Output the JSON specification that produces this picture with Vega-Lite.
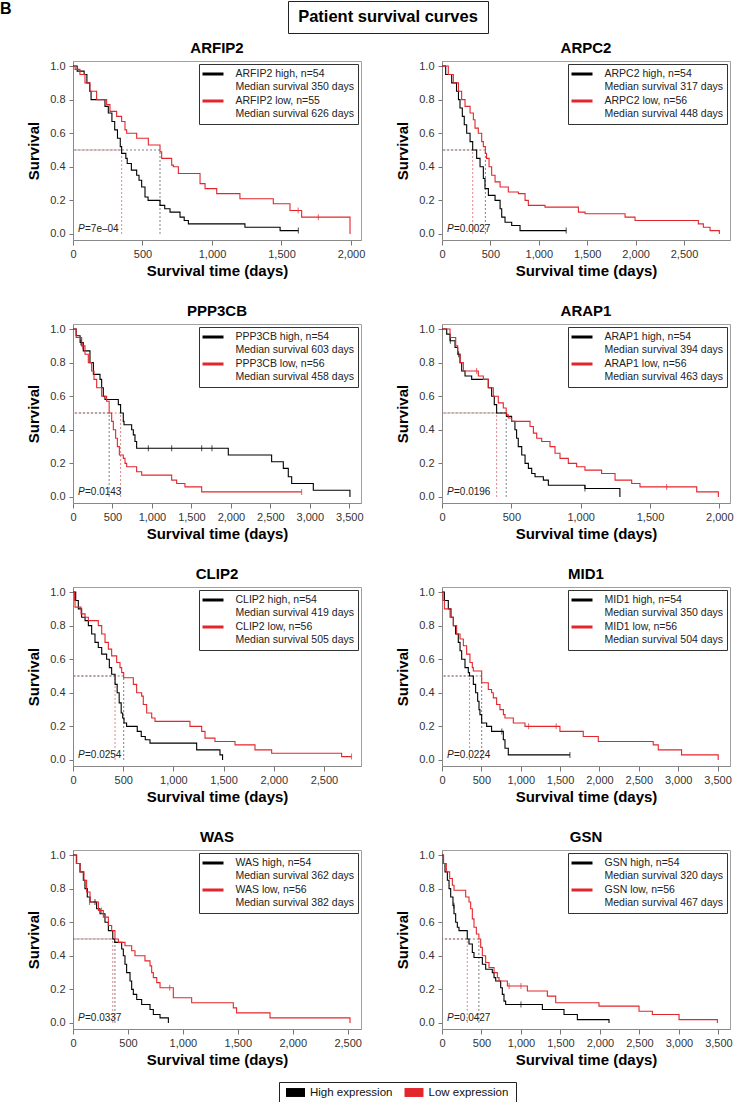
{
"$schema": "https://vega.github.io/schema/vega-lite/v6.json",
"padding": 0,
"background": "white",
"config": {
 "font": "Liberation Sans",
 "view": {"stroke": "#a0a0a0", "strokeWidth": 1},
 "title": {"fontSize": 15, "fontWeight": "bold", "color": "#000000", "offset": 4},
 "axis": {"grid": false, "labelFontSize": 11, "labelColor": "#333333", "titleFontSize": 15, "titleFontWeight": "bold", "titleColor": "#000000", "tickColor": "#777777", "domainColor": "#888888", "labelFlush": false, "labelOverlap": false},
 "axisX": {"tickSize": 5, "labelPadding": 3, "titlePadding": 4},
 "axisY": {"tickSize": 4, "labelPadding": 4, "titlePadding": 8},
 "legend": {"orient": "top-right", "offset": 3, "strokeColor": "#333333", "fillColor": "white", "padding": 3.5, "symbolSize": 100, "symbolOffset": 4, "symbolStrokeWidth": 3, "labelFontSize": 10.5, "labelColor": "#222222", "labelOffset": 16, "rowPadding": 1, "labelLimit": 400}
},
"datasets": {
 "med": [
  {"g":"ARFIP2","k":"high","m":350},{"g":"ARFIP2","k":"low","m":626},
  {"g":"ARPC2","k":"high","m":317},{"g":"ARPC2","k":"low","m":448},
  {"g":"PPP3CB","k":"high","m":603},{"g":"PPP3CB","k":"low","m":458},
  {"g":"ARAP1","k":"high","m":394},{"g":"ARAP1","k":"low","m":463},
  {"g":"CLIP2","k":"high","m":419},{"g":"CLIP2","k":"low","m":505},
  {"g":"MID1","k":"high","m":350},{"g":"MID1","k":"low","m":504},
  {"g":"WAS","k":"high","m":362},{"g":"WAS","k":"low","m":382},
  {"g":"GSN","k":"high","m":320},{"g":"GSN","k":"low","m":467}
 ],
 "pv": [
  {"g":"ARFIP2","p":"=7e–04"},{"g":"ARPC2","p":"=0.0027"},{"g":"PPP3CB","p":"=0.0143"},{"g":"ARAP1","p":"=0.0196"},
  {"g":"CLIP2","p":"=0.0254"},{"g":"MID1","p":"=0.0224"},{"g":"WAS","p":"=0.0337"},{"g":"GSN","p":"=0.0427"}
 ],
 "cen": [
  {"g":"ARFIP2","k":"low","t":1620,"s":0.14},{"g":"ARFIP2","k":"low","t":1765,"s":0.1},{"g":"ARFIP2","k":"high","t":1621,"s":0.02},
  {"g":"ARPC2","k":"high","t":1283,"s":0.02},
  {"g":"PPP3CB","k":"high","t":954,"s":0.29},{"g":"PPP3CB","k":"high","t":1250,"s":0.29},{"g":"PPP3CB","k":"high","t":1630,"s":0.29},{"g":"PPP3CB","k":"high","t":1760,"s":0.29},{"g":"PPP3CB","k":"high","t":100,"s":0.92},{"g":"PPP3CB","k":"low","t":2896,"s":0.03},{"g":"PPP3CB","k":"low","t":120,"s":0.9},
  {"g":"ARAP1","k":"high","t":60,"s":0.93},{"g":"ARAP1","k":"high","t":120,"s":0.85},{"g":"ARAP1","k":"high","t":1031,"s":0.05},{"g":"ARAP1","k":"low","t":1620,"s":0.06},{"g":"ARAP1","k":"low","t":250,"s":0.75},
  {"g":"CLIP2","k":"low","t":2775,"s":0.02},
  {"g":"MID1","k":"high","t":1625,"s":0.03},{"g":"MID1","k":"high","t":760,"s":0.17},{"g":"MID1","k":"low","t":1100,"s":0.2},{"g":"MID1","k":"low","t":1450,"s":0.2},
  {"g":"WAS","k":"high","t":200,"s":0.72},{"g":"WAS","k":"low","t":880,"s":0.21},{"g":"WAS","k":"low","t":150,"s":0.72},{"g":"WAS","k":"low","t":260,"s":0.67},
  {"g":"GSN","k":"high","t":150,"s":0.7},{"g":"GSN","k":"high","t":1000,"s":0.11},{"g":"GSN","k":"low","t":850,"s":0.22},{"g":"GSN","k":"low","t":1000,"s":0.22}
 ],
 "km": [
  {"g":"ARFIP2","k":"high","t":0,"s":1},{"g":"ARFIP2","k":"high","t":30,"s":0.97},{"g":"ARFIP2","k":"high","t":80,"s":0.95},{"g":"ARFIP2","k":"high","t":100,"s":0.9},{"g":"ARFIP2","k":"high","t":120,"s":0.85},{"g":"ARFIP2","k":"high","t":130,"s":0.8},{"g":"ARFIP2","k":"high","t":230,"s":0.76},{"g":"ARFIP2","k":"high","t":254,"s":0.72},{"g":"ARFIP2","k":"high","t":280,"s":0.67},{"g":"ARFIP2","k":"high","t":300,"s":0.62},{"g":"ARFIP2","k":"high","t":320,"s":0.57},{"g":"ARFIP2","k":"high","t":340,"s":0.52},{"g":"ARFIP2","k":"high","t":350,"s":0.48},{"g":"ARFIP2","k":"high","t":380,"s":0.45},{"g":"ARFIP2","k":"high","t":390,"s":0.42},{"g":"ARFIP2","k":"high","t":420,"s":0.38},{"g":"ARFIP2","k":"high","t":458,"s":0.35},{"g":"ARFIP2","k":"high","t":475,"s":0.32},{"g":"ARFIP2","k":"high","t":494,"s":0.28},{"g":"ARFIP2","k":"high","t":518,"s":0.22},{"g":"ARFIP2","k":"high","t":540,"s":0.2},{"g":"ARFIP2","k":"high","t":626,"s":0.17},{"g":"ARFIP2","k":"high","t":660,"s":0.15},{"g":"ARFIP2","k":"high","t":698,"s":0.13},{"g":"ARFIP2","k":"high","t":770,"s":0.1},{"g":"ARFIP2","k":"high","t":800,"s":0.08},{"g":"ARFIP2","k":"high","t":830,"s":0.06},{"g":"ARFIP2","k":"high","t":1237,"s":0.04},{"g":"ARFIP2","k":"high","t":1490,"s":0.02},{"g":"ARFIP2","k":"high","t":1621,"s":0.02},
  {"g":"ARFIP2","k":"low","t":0,"s":1},{"g":"ARFIP2","k":"low","t":15,"s":0.98},{"g":"ARFIP2","k":"low","t":50,"s":0.95},{"g":"ARFIP2","k":"low","t":86,"s":0.9},{"g":"ARFIP2","k":"low","t":122,"s":0.85},{"g":"ARFIP2","k":"low","t":170,"s":0.8},{"g":"ARFIP2","k":"low","t":242,"s":0.77},{"g":"ARFIP2","k":"low","t":266,"s":0.73},{"g":"ARFIP2","k":"low","t":314,"s":0.7},{"g":"ARFIP2","k":"low","t":350,"s":0.67},{"g":"ARFIP2","k":"low","t":374,"s":0.62},{"g":"ARFIP2","k":"low","t":386,"s":0.6},{"g":"ARFIP2","k":"low","t":458,"s":0.57},{"g":"ARFIP2","k":"low","t":542,"s":0.53},{"g":"ARFIP2","k":"low","t":626,"s":0.49},{"g":"ARFIP2","k":"low","t":638,"s":0.45},{"g":"ARFIP2","k":"low","t":710,"s":0.41},{"g":"ARFIP2","k":"low","t":722,"s":0.4},{"g":"ARFIP2","k":"low","t":758,"s":0.36},{"g":"ARFIP2","k":"low","t":914,"s":0.3},{"g":"ARFIP2","k":"low","t":950,"s":0.27},{"g":"ARFIP2","k":"low","t":1034,"s":0.24},{"g":"ARFIP2","k":"low","t":1201,"s":0.21},{"g":"ARFIP2","k":"low","t":1441,"s":0.18},{"g":"ARFIP2","k":"low","t":1561,"s":0.14},{"g":"ARFIP2","k":"low","t":1645,"s":0.1},{"g":"ARFIP2","k":"low","t":1993,"s":0},
  {"g":"ARPC2","k":"high","t":0,"s":1},{"g":"ARPC2","k":"high","t":38,"s":0.95},{"g":"ARPC2","k":"high","t":100,"s":0.9},{"g":"ARPC2","k":"high","t":150,"s":0.85},{"g":"ARPC2","k":"high","t":170,"s":0.8},{"g":"ARPC2","k":"high","t":186,"s":0.75},{"g":"ARPC2","k":"high","t":210,"s":0.7},{"g":"ARPC2","k":"high","t":230,"s":0.65},{"g":"ARPC2","k":"high","t":255,"s":0.6},{"g":"ARPC2","k":"high","t":290,"s":0.55},{"g":"ARPC2","k":"high","t":317,"s":0.5},{"g":"ARPC2","k":"high","t":358,"s":0.45},{"g":"ARPC2","k":"high","t":393,"s":0.4},{"g":"ARPC2","k":"high","t":427,"s":0.33},{"g":"ARPC2","k":"high","t":444,"s":0.27},{"g":"ARPC2","k":"high","t":479,"s":0.23},{"g":"ARPC2","k":"high","t":548,"s":0.2},{"g":"ARPC2","k":"high","t":600,"s":0.15},{"g":"ARPC2","k":"high","t":617,"s":0.1},{"g":"ARPC2","k":"high","t":651,"s":0.07},{"g":"ARPC2","k":"high","t":720,"s":0.05},{"g":"ARPC2","k":"high","t":806,"s":0.02},{"g":"ARPC2","k":"high","t":1283,"s":0.02},
  {"g":"ARPC2","k":"low","t":0,"s":1},{"g":"ARPC2","k":"low","t":65,"s":0.95},{"g":"ARPC2","k":"low","t":117,"s":0.9},{"g":"ARPC2","k":"low","t":170,"s":0.85},{"g":"ARPC2","k":"low","t":203,"s":0.8},{"g":"ARPC2","k":"low","t":238,"s":0.76},{"g":"ARPC2","k":"low","t":290,"s":0.72},{"g":"ARPC2","k":"low","t":324,"s":0.68},{"g":"ARPC2","k":"low","t":341,"s":0.63},{"g":"ARPC2","k":"low","t":375,"s":0.6},{"g":"ARPC2","k":"low","t":410,"s":0.55},{"g":"ARPC2","k":"low","t":427,"s":0.52},{"g":"ARPC2","k":"low","t":448,"s":0.48},{"g":"ARPC2","k":"low","t":460,"s":0.45},{"g":"ARPC2","k":"low","t":486,"s":0.4},{"g":"ARPC2","k":"low","t":513,"s":0.35},{"g":"ARPC2","k":"low","t":548,"s":0.31},{"g":"ARPC2","k":"low","t":600,"s":0.28},{"g":"ARPC2","k":"low","t":685,"s":0.25},{"g":"ARPC2","k":"low","t":789,"s":0.24},{"g":"ARPC2","k":"low","t":858,"s":0.2},{"g":"ARPC2","k":"low","t":892,"s":0.17},{"g":"ARPC2","k":"low","t":1064,"s":0.16},{"g":"ARPC2","k":"low","t":1409,"s":0.13},{"g":"ARPC2","k":"low","t":1478,"s":0.12},{"g":"ARPC2","k":"low","t":1891,"s":0.1},{"g":"ARPC2","k":"low","t":1994,"s":0.08},{"g":"ARPC2","k":"low","t":2648,"s":0.06},{"g":"ARPC2","k":"low","t":2700,"s":0.04},{"g":"ARPC2","k":"low","t":2769,"s":0.02},{"g":"ARPC2","k":"low","t":2865,"s":0},
  {"g":"PPP3CB","k":"high","t":0,"s":1},{"g":"PPP3CB","k":"high","t":40,"s":0.96},{"g":"PPP3CB","k":"high","t":90,"s":0.92},{"g":"PPP3CB","k":"high","t":130,"s":0.87},{"g":"PPP3CB","k":"high","t":215,"s":0.8},{"g":"PPP3CB","k":"high","t":258,"s":0.73},{"g":"PPP3CB","k":"high","t":342,"s":0.7},{"g":"PPP3CB","k":"high","t":363,"s":0.65},{"g":"PPP3CB","k":"high","t":384,"s":0.6},{"g":"PPP3CB","k":"high","t":405,"s":0.58},{"g":"PPP3CB","k":"high","t":574,"s":0.55},{"g":"PPP3CB","k":"high","t":603,"s":0.5},{"g":"PPP3CB","k":"high","t":637,"s":0.45},{"g":"PPP3CB","k":"high","t":646,"s":0.43},{"g":"PPP3CB","k":"high","t":743,"s":0.4},{"g":"PPP3CB","k":"high","t":764,"s":0.37},{"g":"PPP3CB","k":"high","t":785,"s":0.33},{"g":"PPP3CB","k":"high","t":806,"s":0.29},{"g":"PPP3CB","k":"high","t":1967,"s":0.25},{"g":"PPP3CB","k":"high","t":2516,"s":0.21},{"g":"PPP3CB","k":"high","t":2664,"s":0.17},{"g":"PPP3CB","k":"high","t":2727,"s":0.12},{"g":"PPP3CB","k":"high","t":2770,"s":0.08},{"g":"PPP3CB","k":"high","t":3044,"s":0.04},{"g":"PPP3CB","k":"high","t":3508,"s":0},
  {"g":"PPP3CB","k":"low","t":0,"s":1},{"g":"PPP3CB","k":"low","t":40,"s":0.95},{"g":"PPP3CB","k":"low","t":110,"s":0.9},{"g":"PPP3CB","k":"low","t":152,"s":0.85},{"g":"PPP3CB","k":"low","t":194,"s":0.8},{"g":"PPP3CB","k":"low","t":236,"s":0.75},{"g":"PPP3CB","k":"low","t":266,"s":0.7},{"g":"PPP3CB","k":"low","t":300,"s":0.65},{"g":"PPP3CB","k":"low","t":363,"s":0.6},{"g":"PPP3CB","k":"low","t":426,"s":0.57},{"g":"PPP3CB","k":"low","t":458,"s":0.5},{"g":"PPP3CB","k":"low","t":490,"s":0.45},{"g":"PPP3CB","k":"low","t":511,"s":0.4},{"g":"PPP3CB","k":"low","t":540,"s":0.35},{"g":"PPP3CB","k":"low","t":562,"s":0.3},{"g":"PPP3CB","k":"low","t":587,"s":0.25},{"g":"PPP3CB","k":"low","t":637,"s":0.23},{"g":"PPP3CB","k":"low","t":659,"s":0.2},{"g":"PPP3CB","k":"low","t":680,"s":0.18},{"g":"PPP3CB","k":"low","t":806,"s":0.15},{"g":"PPP3CB","k":"low","t":870,"s":0.13},{"g":"PPP3CB","k":"low","t":1250,"s":0.1},{"g":"PPP3CB","k":"low","t":1313,"s":0.08},{"g":"PPP3CB","k":"low","t":1418,"s":0.06},{"g":"PPP3CB","k":"low","t":1630,"s":0.03},{"g":"PPP3CB","k":"low","t":2896,"s":0.03},
  {"g":"ARAP1","k":"high","t":0,"s":1},{"g":"ARAP1","k":"high","t":34,"s":0.97},{"g":"ARAP1","k":"high","t":58,"s":0.93},{"g":"ARAP1","k":"high","t":94,"s":0.89},{"g":"ARAP1","k":"high","t":113,"s":0.85},{"g":"ARAP1","k":"high","t":130,"s":0.8},{"g":"ARAP1","k":"high","t":142,"s":0.75},{"g":"ARAP1","k":"high","t":166,"s":0.72},{"g":"ARAP1","k":"high","t":214,"s":0.7},{"g":"ARAP1","k":"high","t":334,"s":0.65},{"g":"ARAP1","k":"high","t":358,"s":0.6},{"g":"ARAP1","k":"high","t":377,"s":0.55},{"g":"ARAP1","k":"high","t":394,"s":0.5},{"g":"ARAP1","k":"high","t":466,"s":0.48},{"g":"ARAP1","k":"high","t":502,"s":0.45},{"g":"ARAP1","k":"high","t":526,"s":0.4},{"g":"ARAP1","k":"high","t":538,"s":0.35},{"g":"ARAP1","k":"high","t":550,"s":0.3},{"g":"ARAP1","k":"high","t":575,"s":0.25},{"g":"ARAP1","k":"high","t":599,"s":0.2},{"g":"ARAP1","k":"high","t":623,"s":0.17},{"g":"ARAP1","k":"high","t":647,"s":0.14},{"g":"ARAP1","k":"high","t":671,"s":0.12},{"g":"ARAP1","k":"high","t":731,"s":0.1},{"g":"ARAP1","k":"high","t":767,"s":0.07},{"g":"ARAP1","k":"high","t":1031,"s":0.05},{"g":"ARAP1","k":"high","t":1283,"s":0},
  {"g":"ARAP1","k":"low","t":0,"s":1},{"g":"ARAP1","k":"low","t":58,"s":0.95},{"g":"ARAP1","k":"low","t":99,"s":0.9},{"g":"ARAP1","k":"low","t":113,"s":0.85},{"g":"ARAP1","k":"low","t":130,"s":0.8},{"g":"ARAP1","k":"low","t":154,"s":0.75},{"g":"ARAP1","k":"low","t":262,"s":0.72},{"g":"ARAP1","k":"low","t":298,"s":0.7},{"g":"ARAP1","k":"low","t":334,"s":0.65},{"g":"ARAP1","k":"low","t":370,"s":0.6},{"g":"ARAP1","k":"low","t":406,"s":0.56},{"g":"ARAP1","k":"low","t":442,"s":0.53},{"g":"ARAP1","k":"low","t":463,"s":0.49},{"g":"ARAP1","k":"low","t":478,"s":0.47},{"g":"ARAP1","k":"low","t":502,"s":0.45},{"g":"ARAP1","k":"low","t":635,"s":0.42},{"g":"ARAP1","k":"low","t":659,"s":0.38},{"g":"ARAP1","k":"low","t":683,"s":0.35},{"g":"ARAP1","k":"low","t":719,"s":0.33},{"g":"ARAP1","k":"low","t":779,"s":0.3},{"g":"ARAP1","k":"low","t":815,"s":0.26},{"g":"ARAP1","k":"low","t":851,"s":0.23},{"g":"ARAP1","k":"low","t":911,"s":0.2},{"g":"ARAP1","k":"low","t":971,"s":0.18},{"g":"ARAP1","k":"low","t":1031,"s":0.16},{"g":"ARAP1","k":"low","t":1151,"s":0.14},{"g":"ARAP1","k":"low","t":1248,"s":0.1},{"g":"ARAP1","k":"low","t":1368,"s":0.08},{"g":"ARAP1","k":"low","t":1428,"s":0.06},{"g":"ARAP1","k":"low","t":1837,"s":0.03},{"g":"ARAP1","k":"low","t":1993,"s":0},
  {"g":"CLIP2","k":"high","t":0,"s":1},{"g":"CLIP2","k":"high","t":27,"s":0.95},{"g":"CLIP2","k":"high","t":53,"s":0.9},{"g":"CLIP2","k":"high","t":86,"s":0.85},{"g":"CLIP2","k":"high","t":120,"s":0.83},{"g":"CLIP2","k":"high","t":153,"s":0.8},{"g":"CLIP2","k":"high","t":186,"s":0.75},{"g":"CLIP2","k":"high","t":219,"s":0.7},{"g":"CLIP2","k":"high","t":252,"s":0.67},{"g":"CLIP2","k":"high","t":286,"s":0.63},{"g":"CLIP2","k":"high","t":335,"s":0.6},{"g":"CLIP2","k":"high","t":362,"s":0.55},{"g":"CLIP2","k":"high","t":385,"s":0.51},{"g":"CLIP2","k":"high","t":419,"s":0.45},{"g":"CLIP2","k":"high","t":440,"s":0.4},{"g":"CLIP2","k":"high","t":460,"s":0.34},{"g":"CLIP2","k":"high","t":480,"s":0.28},{"g":"CLIP2","k":"high","t":495,"s":0.25},{"g":"CLIP2","k":"high","t":508,"s":0.22},{"g":"CLIP2","k":"high","t":534,"s":0.2},{"g":"CLIP2","k":"high","t":640,"s":0.17},{"g":"CLIP2","k":"high","t":680,"s":0.14},{"g":"CLIP2","k":"high","t":720,"s":0.12},{"g":"CLIP2","k":"high","t":767,"s":0.1},{"g":"CLIP2","k":"high","t":1232,"s":0.06},{"g":"CLIP2","k":"high","t":1464,"s":0.03},{"g":"CLIP2","k":"high","t":1490,"s":0},
  {"g":"CLIP2","k":"low","t":0,"s":1},{"g":"CLIP2","k":"low","t":15,"s":0.95},{"g":"CLIP2","k":"low","t":20,"s":0.91},{"g":"CLIP2","k":"low","t":80,"s":0.87},{"g":"CLIP2","k":"low","t":120,"s":0.85},{"g":"CLIP2","k":"low","t":153,"s":0.83},{"g":"CLIP2","k":"low","t":252,"s":0.8},{"g":"CLIP2","k":"low","t":286,"s":0.75},{"g":"CLIP2","k":"low","t":319,"s":0.7},{"g":"CLIP2","k":"low","t":352,"s":0.66},{"g":"CLIP2","k":"low","t":385,"s":0.62},{"g":"CLIP2","k":"low","t":435,"s":0.58},{"g":"CLIP2","k":"low","t":468,"s":0.55},{"g":"CLIP2","k":"low","t":485,"s":0.52},{"g":"CLIP2","k":"low","t":505,"s":0.49},{"g":"CLIP2","k":"low","t":601,"s":0.45},{"g":"CLIP2","k":"low","t":634,"s":0.4},{"g":"CLIP2","k":"low","t":684,"s":0.38},{"g":"CLIP2","k":"low","t":700,"s":0.33},{"g":"CLIP2","k":"low","t":734,"s":0.28},{"g":"CLIP2","k":"low","t":784,"s":0.25},{"g":"CLIP2","k":"low","t":817,"s":0.23},{"g":"CLIP2","k":"low","t":1165,"s":0.2},{"g":"CLIP2","k":"low","t":1282,"s":0.17},{"g":"CLIP2","k":"low","t":1315,"s":0.13},{"g":"CLIP2","k":"low","t":1414,"s":0.11},{"g":"CLIP2","k":"low","t":1614,"s":0.09},{"g":"CLIP2","k":"low","t":1813,"s":0.06},{"g":"CLIP2","k":"low","t":1979,"s":0.04},{"g":"CLIP2","k":"low","t":2676,"s":0.02},{"g":"CLIP2","k":"low","t":2775,"s":0.02},
  {"g":"MID1","k":"high","t":0,"s":1},{"g":"MID1","k":"high","t":30,"s":0.95},{"g":"MID1","k":"high","t":80,"s":0.9},{"g":"MID1","k":"high","t":114,"s":0.85},{"g":"MID1","k":"high","t":144,"s":0.8},{"g":"MID1","k":"high","t":173,"s":0.75},{"g":"MID1","k":"high","t":207,"s":0.7},{"g":"MID1","k":"high","t":229,"s":0.65},{"g":"MID1","k":"high","t":250,"s":0.6},{"g":"MID1","k":"high","t":292,"s":0.55},{"g":"MID1","k":"high","t":334,"s":0.52},{"g":"MID1","k":"high","t":350,"s":0.5},{"g":"MID1","k":"high","t":398,"s":0.45},{"g":"MID1","k":"high","t":427,"s":0.4},{"g":"MID1","k":"high","t":453,"s":0.35},{"g":"MID1","k":"high","t":470,"s":0.3},{"g":"MID1","k":"high","t":482,"s":0.27},{"g":"MID1","k":"high","t":504,"s":0.22},{"g":"MID1","k":"high","t":567,"s":0.2},{"g":"MID1","k":"high","t":630,"s":0.17},{"g":"MID1","k":"high","t":779,"s":0.12},{"g":"MID1","k":"high","t":800,"s":0.07},{"g":"MID1","k":"high","t":842,"s":0.03},{"g":"MID1","k":"high","t":1625,"s":0.03},
  {"g":"MID1","k":"low","t":0,"s":1},{"g":"MID1","k":"low","t":13,"s":0.95},{"g":"MID1","k":"low","t":30,"s":0.9},{"g":"MID1","k":"low","t":102,"s":0.85},{"g":"MID1","k":"low","t":144,"s":0.8},{"g":"MID1","k":"low","t":186,"s":0.75},{"g":"MID1","k":"low","t":229,"s":0.72},{"g":"MID1","k":"low","t":271,"s":0.68},{"g":"MID1","k":"low","t":313,"s":0.63},{"g":"MID1","k":"low","t":355,"s":0.58},{"g":"MID1","k":"low","t":385,"s":0.55},{"g":"MID1","k":"low","t":398,"s":0.53},{"g":"MID1","k":"low","t":504,"s":0.46},{"g":"MID1","k":"low","t":588,"s":0.42},{"g":"MID1","k":"low","t":630,"s":0.4},{"g":"MID1","k":"low","t":652,"s":0.37},{"g":"MID1","k":"low","t":694,"s":0.33},{"g":"MID1","k":"low","t":736,"s":0.3},{"g":"MID1","k":"low","t":780,"s":0.27},{"g":"MID1","k":"low","t":800,"s":0.25},{"g":"MID1","k":"low","t":906,"s":0.22},{"g":"MID1","k":"low","t":1054,"s":0.2},{"g":"MID1","k":"low","t":1498,"s":0.17},{"g":"MID1","k":"low","t":1794,"s":0.14},{"g":"MID1","k":"low","t":1985,"s":0.11},{"g":"MID1","k":"low","t":2683,"s":0.09},{"g":"MID1","k":"low","t":2747,"s":0.06},{"g":"MID1","k":"low","t":3043,"s":0.03},{"g":"MID1","k":"low","t":3508,"s":0},
  {"g":"WAS","k":"high","t":0,"s":1},{"g":"WAS","k":"high","t":33,"s":0.95},{"g":"WAS","k":"high","t":64,"s":0.9},{"g":"WAS","k":"high","t":94,"s":0.85},{"g":"WAS","k":"high","t":109,"s":0.8},{"g":"WAS","k":"high","t":130,"s":0.75},{"g":"WAS","k":"high","t":155,"s":0.72},{"g":"WAS","k":"high","t":215,"s":0.68},{"g":"WAS","k":"high","t":246,"s":0.65},{"g":"WAS","k":"high","t":291,"s":0.6},{"g":"WAS","k":"high","t":322,"s":0.55},{"g":"WAS","k":"high","t":362,"s":0.5},{"g":"WAS","k":"high","t":380,"s":0.48},{"g":"WAS","k":"high","t":443,"s":0.44},{"g":"WAS","k":"high","t":458,"s":0.4},{"g":"WAS","k":"high","t":473,"s":0.35},{"g":"WAS","k":"high","t":488,"s":0.3},{"g":"WAS","k":"high","t":519,"s":0.25},{"g":"WAS","k":"high","t":534,"s":0.2},{"g":"WAS","k":"high","t":549,"s":0.17},{"g":"WAS","k":"high","t":580,"s":0.14},{"g":"WAS","k":"high","t":625,"s":0.11},{"g":"WAS","k":"high","t":701,"s":0.08},{"g":"WAS","k":"high","t":731,"s":0.05},{"g":"WAS","k":"high","t":792,"s":0.03},{"g":"WAS","k":"high","t":868,"s":0},
  {"g":"WAS","k":"low","t":0,"s":1},{"g":"WAS","k":"low","t":30,"s":0.95},{"g":"WAS","k":"low","t":64,"s":0.9},{"g":"WAS","k":"low","t":100,"s":0.85},{"g":"WAS","k":"low","t":124,"s":0.78},{"g":"WAS","k":"low","t":155,"s":0.72},{"g":"WAS","k":"low","t":231,"s":0.67},{"g":"WAS","k":"low","t":276,"s":0.63},{"g":"WAS","k":"low","t":322,"s":0.58},{"g":"WAS","k":"low","t":352,"s":0.55},{"g":"WAS","k":"low","t":382,"s":0.5},{"g":"WAS","k":"low","t":413,"s":0.48},{"g":"WAS","k":"low","t":473,"s":0.46},{"g":"WAS","k":"low","t":534,"s":0.43},{"g":"WAS","k":"low","t":564,"s":0.4},{"g":"WAS","k":"low","t":655,"s":0.37},{"g":"WAS","k":"low","t":701,"s":0.34},{"g":"WAS","k":"low","t":716,"s":0.3},{"g":"WAS","k":"low","t":731,"s":0.27},{"g":"WAS","k":"low","t":762,"s":0.24},{"g":"WAS","k":"low","t":792,"s":0.21},{"g":"WAS","k":"low","t":913,"s":0.15},{"g":"WAS","k":"low","t":1080,"s":0.12},{"g":"WAS","k":"low","t":1459,"s":0.09},{"g":"WAS","k":"low","t":1489,"s":0.06},{"g":"WAS","k":"low","t":1793,"s":0.03},{"g":"WAS","k":"low","t":2521,"s":0},
  {"g":"GSN","k":"high","t":0,"s":1},{"g":"GSN","k":"high","t":17,"s":0.95},{"g":"GSN","k":"high","t":38,"s":0.9},{"g":"GSN","k":"high","t":68,"s":0.85},{"g":"GSN","k":"high","t":89,"s":0.8},{"g":"GSN","k":"high","t":110,"s":0.75},{"g":"GSN","k":"high","t":139,"s":0.7},{"g":"GSN","k":"high","t":152,"s":0.65},{"g":"GSN","k":"high","t":173,"s":0.6},{"g":"GSN","k":"high","t":194,"s":0.57},{"g":"GSN","k":"high","t":215,"s":0.55},{"g":"GSN","k":"high","t":320,"s":0.5},{"g":"GSN","k":"high","t":342,"s":0.47},{"g":"GSN","k":"high","t":384,"s":0.42},{"g":"GSN","k":"high","t":405,"s":0.39},{"g":"GSN","k":"high","t":511,"s":0.35},{"g":"GSN","k":"high","t":553,"s":0.32},{"g":"GSN","k":"high","t":637,"s":0.3},{"g":"GSN","k":"high","t":659,"s":0.27},{"g":"GSN","k":"high","t":680,"s":0.25},{"g":"GSN","k":"high","t":743,"s":0.21},{"g":"GSN","k":"high","t":764,"s":0.17},{"g":"GSN","k":"high","t":785,"s":0.13},{"g":"GSN","k":"high","t":806,"s":0.11},{"g":"GSN","k":"high","t":1271,"s":0.08},{"g":"GSN","k":"high","t":1545,"s":0.05},{"g":"GSN","k":"high","t":1714,"s":0.02},{"g":"GSN","k":"high","t":2115,"s":0},
  {"g":"GSN","k":"low","t":0,"s":1},{"g":"GSN","k":"low","t":20,"s":0.95},{"g":"GSN","k":"low","t":55,"s":0.9},{"g":"GSN","k":"low","t":97,"s":0.86},{"g":"GSN","k":"low","t":131,"s":0.82},{"g":"GSN","k":"low","t":152,"s":0.79},{"g":"GSN","k":"low","t":300,"s":0.75},{"g":"GSN","k":"low","t":342,"s":0.72},{"g":"GSN","k":"low","t":363,"s":0.68},{"g":"GSN","k":"low","t":384,"s":0.62},{"g":"GSN","k":"low","t":405,"s":0.57},{"g":"GSN","k":"low","t":435,"s":0.53},{"g":"GSN","k":"low","t":467,"s":0.5},{"g":"GSN","k":"low","t":490,"s":0.45},{"g":"GSN","k":"low","t":511,"s":0.4},{"g":"GSN","k":"low","t":553,"s":0.36},{"g":"GSN","k":"low","t":595,"s":0.33},{"g":"GSN","k":"low","t":659,"s":0.3},{"g":"GSN","k":"low","t":701,"s":0.27},{"g":"GSN","k":"low","t":722,"s":0.25},{"g":"GSN","k":"low","t":828,"s":0.22},{"g":"GSN","k":"low","t":1081,"s":0.19},{"g":"GSN","k":"low","t":1334,"s":0.16},{"g":"GSN","k":"low","t":1440,"s":0.12},{"g":"GSN","k":"low","t":1988,"s":0.1},{"g":"GSN","k":"low","t":2495,"s":0.07},{"g":"GSN","k":"low","t":2664,"s":0.05},{"g":"GSN","k":"low","t":3002,"s":0.02},{"g":"GSN","k":"low","t":3487,"s":0}
 ]
},
"spacing": 6,
"resolve": {"scale": {"color": "independent", "stroke": "independent", "fill": "independent"}},
"vconcat": [
 {"hconcat": [
   {"width": 1, "height": 32, "view": {"stroke": null}, "data": {"values": [{"lab": "B"}]},
    "mark": {"type": "text", "align": "left", "baseline": "middle", "dx": -73.5, "dy": -8, "fontSize": 16, "fontWeight": "bold", "color": "#000000"},
    "encoding": {"text": {"field": "lab", "type": "nominal"}}},
   {"width": 200, "height": 32, "view": {"stroke": "#222222", "strokeWidth": 1}, "data": {"values": [{"lab": "Patient survival curves"}]},
    "mark": {"type": "text", "align": "center", "baseline": "middle", "fontSize": 16.5, "fontWeight": "bold", "color": "#000000"},
    "encoding": {"text": {"field": "lab", "type": "nominal"}}}
  ], "spacing": 213},
 {"columns": 2, "spacing": {"row": 24, "column": 29},
  "resolve": {"scale": {"color": "independent"}, "legend": {"color": "independent"}},
  "concat": [
   {"width": 288, "height": 179, "title": "ARFIP2", "layer": [
     {"data": {"name": "med"}, "transform": [{"filter": "datum.g == 'ARFIP2'"}], "mark": {"type": "rule", "strokeDash": [2, 2], "strokeWidth": 0.9}, "encoding": {"x": {"field": "m", "type": "quantitative", "title": "Survival time (days)"}, "x2": {"datum": 0}, "y": {"datum": 0.5, "type": "quantitative", "title": "Survival"}, "stroke": {"field": "k", "type": "nominal", "scale": {"domain": ["high", "low"], "range": ["#d9787c", "#6f6f6f"]}, "legend": null}}},
     {"data": {"name": "med"}, "transform": [{"filter": "datum.g == 'ARFIP2'"}], "mark": {"type": "rule", "strokeDash": [2, 2], "strokeWidth": 0.9}, "encoding": {"x": {"field": "m", "type": "quantitative", "title": "Survival time (days)"}, "y": {"datum": 0, "type": "quantitative", "title": "Survival"}, "y2": {"datum": 0.5}, "stroke": {"field": "k", "type": "nominal", "legend": null}}},
     {"data": {"name": "km"}, "transform": [{"filter": "datum.g == 'ARFIP2'"}], "mark": {"type": "line", "interpolate": "step-after", "strokeWidth": 1.1},
      "encoding": {"x": {"field": "t", "type": "quantitative", "title": "Survival time (days)", "scale": {"domain": [0, 2072], "nice": false, "zero": false}, "axis": {"values": [0, 500, 1000, 1500, 2000], "tickCount": 12, "format": ",d", "labelOverlap": false}},
       "y": {"field": "s", "type": "quantitative", "title": "Survival", "scale": {"domain": [-0.036, 1.03], "nice": false, "zero": false}, "axis": {"values": [0, 0.2, 0.4, 0.6, 0.8, 1], "tickCount": 12, "format": ".1f", "labelOverlap": false}},
       "color": {"field": "k", "type": "nominal", "scale": {"domain": ["high", "low"], "range": ["#000000", "#e3262c"]}, "legend": {"title": null, "symbolType": "M-2.1,0L2.1,0", "labelExpr": "datum.label == 'high' ? ['ARFIP2 high, n=54', 'Median survival 350 days'] : ['ARFIP2 low, n=55', 'Median survival 626 days']", "encode": {"labels": {"update": {"lineHeight": {"value": 13.3}}}, "symbols": {"update": {"strokeWidth": {"value": 3}}}}}}}},
     {"data": {"name": "cen"}, "transform": [{"filter": "datum.g == 'ARFIP2'"}], "mark": {"type": "tick", "orient": "vertical", "size": 6, "thickness": 1}, "encoding": {"x": {"field": "t", "type": "quantitative", "title": "Survival time (days)"}, "y": {"field": "s", "type": "quantitative", "title": "Survival"}, "color": {"field": "k", "type": "nominal"}}},
     {"data": {"name": "pv"}, "transform": [{"filter": "datum.g == 'ARFIP2'"}], "mark": {"type": "text", "text": "P", "fontStyle": "italic", "fontSize": 10, "align": "left", "baseline": "middle", "dx": 5, "color": "#222222"}, "encoding": {"x": {"datum": 0, "type": "quantitative", "title": "Survival time (days)"}, "y": {"datum": 0.03, "type": "quantitative", "title": "Survival"}}},
     {"data": {"name": "pv"}, "transform": [{"filter": "datum.g == 'ARFIP2'"}], "mark": {"type": "text", "fontSize": 10, "align": "left", "baseline": "middle", "dx": 12, "color": "#222222"}, "encoding": {"x": {"datum": 0, "type": "quantitative", "title": "Survival time (days)"}, "y": {"datum": 0.03, "type": "quantitative", "title": "Survival"}, "text": {"field": "p", "type": "nominal"}}}
   ]},
   {"width": 288, "height": 179, "title": "ARPC2", "layer": [
     {"data": {"name": "med"}, "transform": [{"filter": "datum.g == 'ARPC2'"}], "mark": {"type": "rule", "strokeDash": [2, 2], "strokeWidth": 0.9}, "encoding": {"x": {"field": "m", "type": "quantitative", "title": "Survival time (days)"}, "x2": {"datum": 0}, "y": {"datum": 0.5, "type": "quantitative", "title": "Survival"}, "stroke": {"field": "k", "type": "nominal", "scale": {"domain": ["high", "low"], "range": ["#d9787c", "#6f6f6f"]}, "legend": null}}},
     {"data": {"name": "med"}, "transform": [{"filter": "datum.g == 'ARPC2'"}], "mark": {"type": "rule", "strokeDash": [2, 2], "strokeWidth": 0.9}, "encoding": {"x": {"field": "m", "type": "quantitative", "title": "Survival time (days)"}, "y": {"datum": 0, "type": "quantitative", "title": "Survival"}, "y2": {"datum": 0.5}, "stroke": {"field": "k", "type": "nominal", "legend": null}}},
     {"data": {"name": "km"}, "transform": [{"filter": "datum.g == 'ARPC2'"}], "mark": {"type": "line", "interpolate": "step-after", "strokeWidth": 1.1},
      "encoding": {"x": {"field": "t", "type": "quantitative", "title": "Survival time (days)", "scale": {"domain": [0, 2975], "nice": false, "zero": false}, "axis": {"values": [0, 500, 1000, 1500, 2000, 2500], "tickCount": 12, "format": ",d", "labelOverlap": false}},
       "y": {"field": "s", "type": "quantitative", "title": "Survival", "scale": {"domain": [-0.036, 1.03], "nice": false, "zero": false}, "axis": {"values": [0, 0.2, 0.4, 0.6, 0.8, 1], "tickCount": 12, "format": ".1f", "labelOverlap": false}},
       "color": {"field": "k", "type": "nominal", "scale": {"domain": ["high", "low"], "range": ["#000000", "#e3262c"]}, "legend": {"title": null, "symbolType": "M-2.1,0L2.1,0", "labelExpr": "datum.label == 'high' ? ['ARPC2 high, n=54', 'Median survival 317 days'] : ['ARPC2 low, n=56', 'Median survival 448 days']", "encode": {"labels": {"update": {"lineHeight": {"value": 13.3}}}, "symbols": {"update": {"strokeWidth": {"value": 3}}}}}}}},
     {"data": {"name": "cen"}, "transform": [{"filter": "datum.g == 'ARPC2'"}], "mark": {"type": "tick", "orient": "vertical", "size": 6, "thickness": 1}, "encoding": {"x": {"field": "t", "type": "quantitative", "title": "Survival time (days)"}, "y": {"field": "s", "type": "quantitative", "title": "Survival"}, "color": {"field": "k", "type": "nominal"}}},
     {"data": {"name": "pv"}, "transform": [{"filter": "datum.g == 'ARPC2'"}], "mark": {"type": "text", "text": "P", "fontStyle": "italic", "fontSize": 10, "align": "left", "baseline": "middle", "dx": 5, "color": "#222222"}, "encoding": {"x": {"datum": 0, "type": "quantitative", "title": "Survival time (days)"}, "y": {"datum": 0.03, "type": "quantitative", "title": "Survival"}}},
     {"data": {"name": "pv"}, "transform": [{"filter": "datum.g == 'ARPC2'"}], "mark": {"type": "text", "fontSize": 10, "align": "left", "baseline": "middle", "dx": 12, "color": "#222222"}, "encoding": {"x": {"datum": 0, "type": "quantitative", "title": "Survival time (days)"}, "y": {"datum": 0.03, "type": "quantitative", "title": "Survival"}, "text": {"field": "p", "type": "nominal"}}}
   ]},
   {"width": 288, "height": 179, "title": "PPP3CB", "layer": [
     {"data": {"name": "med"}, "transform": [{"filter": "datum.g == 'PPP3CB'"}], "mark": {"type": "rule", "strokeDash": [2, 2], "strokeWidth": 0.9}, "encoding": {"x": {"field": "m", "type": "quantitative", "title": "Survival time (days)"}, "x2": {"datum": 0}, "y": {"datum": 0.5, "type": "quantitative", "title": "Survival"}, "stroke": {"field": "k", "type": "nominal", "scale": {"domain": ["high", "low"], "range": ["#d9787c", "#6f6f6f"]}, "legend": null}}},
     {"data": {"name": "med"}, "transform": [{"filter": "datum.g == 'PPP3CB'"}], "mark": {"type": "rule", "strokeDash": [2, 2], "strokeWidth": 0.9}, "encoding": {"x": {"field": "m", "type": "quantitative", "title": "Survival time (days)"}, "y": {"datum": 0, "type": "quantitative", "title": "Survival"}, "y2": {"datum": 0.5}, "stroke": {"field": "k", "type": "nominal", "legend": null}}},
     {"data": {"name": "km"}, "transform": [{"filter": "datum.g == 'PPP3CB'"}], "mark": {"type": "line", "interpolate": "step-after", "strokeWidth": 1.1},
      "encoding": {"x": {"field": "t", "type": "quantitative", "title": "Survival time (days)", "scale": {"domain": [0, 3648], "nice": false, "zero": false}, "axis": {"values": [0, 500, 1000, 1500, 2000, 2500, 3000, 3500], "tickCount": 12, "format": ",d", "labelOverlap": false}},
       "y": {"field": "s", "type": "quantitative", "title": "Survival", "scale": {"domain": [-0.036, 1.03], "nice": false, "zero": false}, "axis": {"values": [0, 0.2, 0.4, 0.6, 0.8, 1], "tickCount": 12, "format": ".1f", "labelOverlap": false}},
       "color": {"field": "k", "type": "nominal", "scale": {"domain": ["high", "low"], "range": ["#000000", "#e3262c"]}, "legend": {"title": null, "symbolType": "M-2.1,0L2.1,0", "labelExpr": "datum.label == 'high' ? ['PPP3CB high, n=54', 'Median survival 603 days'] : ['PPP3CB low, n=56', 'Median survival 458 days']", "encode": {"labels": {"update": {"lineHeight": {"value": 13.3}}}, "symbols": {"update": {"strokeWidth": {"value": 3}}}}}}}},
     {"data": {"name": "cen"}, "transform": [{"filter": "datum.g == 'PPP3CB'"}], "mark": {"type": "tick", "orient": "vertical", "size": 6, "thickness": 1}, "encoding": {"x": {"field": "t", "type": "quantitative", "title": "Survival time (days)"}, "y": {"field": "s", "type": "quantitative", "title": "Survival"}, "color": {"field": "k", "type": "nominal"}}},
     {"data": {"name": "pv"}, "transform": [{"filter": "datum.g == 'PPP3CB'"}], "mark": {"type": "text", "text": "P", "fontStyle": "italic", "fontSize": 10, "align": "left", "baseline": "middle", "dx": 5, "color": "#222222"}, "encoding": {"x": {"datum": 0, "type": "quantitative", "title": "Survival time (days)"}, "y": {"datum": 0.03, "type": "quantitative", "title": "Survival"}}},
     {"data": {"name": "pv"}, "transform": [{"filter": "datum.g == 'PPP3CB'"}], "mark": {"type": "text", "fontSize": 10, "align": "left", "baseline": "middle", "dx": 12, "color": "#222222"}, "encoding": {"x": {"datum": 0, "type": "quantitative", "title": "Survival time (days)"}, "y": {"datum": 0.03, "type": "quantitative", "title": "Survival"}, "text": {"field": "p", "type": "nominal"}}}
   ]},
   {"width": 288, "height": 179, "title": "ARAP1", "layer": [
     {"data": {"name": "med"}, "transform": [{"filter": "datum.g == 'ARAP1'"}], "mark": {"type": "rule", "strokeDash": [2, 2], "strokeWidth": 0.9}, "encoding": {"x": {"field": "m", "type": "quantitative", "title": "Survival time (days)"}, "x2": {"datum": 0}, "y": {"datum": 0.5, "type": "quantitative", "title": "Survival"}, "stroke": {"field": "k", "type": "nominal", "scale": {"domain": ["high", "low"], "range": ["#d9787c", "#6f6f6f"]}, "legend": null}}},
     {"data": {"name": "med"}, "transform": [{"filter": "datum.g == 'ARAP1'"}], "mark": {"type": "rule", "strokeDash": [2, 2], "strokeWidth": 0.9}, "encoding": {"x": {"field": "m", "type": "quantitative", "title": "Survival time (days)"}, "y": {"datum": 0, "type": "quantitative", "title": "Survival"}, "y2": {"datum": 0.5}, "stroke": {"field": "k", "type": "nominal", "legend": null}}},
     {"data": {"name": "km"}, "transform": [{"filter": "datum.g == 'ARAP1'"}], "mark": {"type": "line", "interpolate": "step-after", "strokeWidth": 1.1},
      "encoding": {"x": {"field": "t", "type": "quantitative", "title": "Survival time (days)", "scale": {"domain": [0, 2077], "nice": false, "zero": false}, "axis": {"values": [0, 500, 1000, 1500, 2000], "tickCount": 12, "format": ",d", "labelOverlap": false}},
       "y": {"field": "s", "type": "quantitative", "title": "Survival", "scale": {"domain": [-0.036, 1.03], "nice": false, "zero": false}, "axis": {"values": [0, 0.2, 0.4, 0.6, 0.8, 1], "tickCount": 12, "format": ".1f", "labelOverlap": false}},
       "color": {"field": "k", "type": "nominal", "scale": {"domain": ["high", "low"], "range": ["#000000", "#e3262c"]}, "legend": {"title": null, "symbolType": "M-2.1,0L2.1,0", "labelExpr": "datum.label == 'high' ? ['ARAP1 high, n=54', 'Median survival 394 days'] : ['ARAP1 low, n=56', 'Median survival 463 days']", "encode": {"labels": {"update": {"lineHeight": {"value": 13.3}}}, "symbols": {"update": {"strokeWidth": {"value": 3}}}}}}}},
     {"data": {"name": "cen"}, "transform": [{"filter": "datum.g == 'ARAP1'"}], "mark": {"type": "tick", "orient": "vertical", "size": 6, "thickness": 1}, "encoding": {"x": {"field": "t", "type": "quantitative", "title": "Survival time (days)"}, "y": {"field": "s", "type": "quantitative", "title": "Survival"}, "color": {"field": "k", "type": "nominal"}}},
     {"data": {"name": "pv"}, "transform": [{"filter": "datum.g == 'ARAP1'"}], "mark": {"type": "text", "text": "P", "fontStyle": "italic", "fontSize": 10, "align": "left", "baseline": "middle", "dx": 5, "color": "#222222"}, "encoding": {"x": {"datum": 0, "type": "quantitative", "title": "Survival time (days)"}, "y": {"datum": 0.03, "type": "quantitative", "title": "Survival"}}},
     {"data": {"name": "pv"}, "transform": [{"filter": "datum.g == 'ARAP1'"}], "mark": {"type": "text", "fontSize": 10, "align": "left", "baseline": "middle", "dx": 12, "color": "#222222"}, "encoding": {"x": {"datum": 0, "type": "quantitative", "title": "Survival time (days)"}, "y": {"datum": 0.03, "type": "quantitative", "title": "Survival"}, "text": {"field": "p", "type": "nominal"}}}
   ]},
   {"width": 288, "height": 179, "title": "CLIP2", "layer": [
     {"data": {"name": "med"}, "transform": [{"filter": "datum.g == 'CLIP2'"}], "mark": {"type": "rule", "strokeDash": [2, 2], "strokeWidth": 0.9}, "encoding": {"x": {"field": "m", "type": "quantitative", "title": "Survival time (days)"}, "x2": {"datum": 0}, "y": {"datum": 0.5, "type": "quantitative", "title": "Survival"}, "stroke": {"field": "k", "type": "nominal", "scale": {"domain": ["high", "low"], "range": ["#d9787c", "#6f6f6f"]}, "legend": null}}},
     {"data": {"name": "med"}, "transform": [{"filter": "datum.g == 'CLIP2'"}], "mark": {"type": "rule", "strokeDash": [2, 2], "strokeWidth": 0.9}, "encoding": {"x": {"field": "m", "type": "quantitative", "title": "Survival time (days)"}, "y": {"datum": 0, "type": "quantitative", "title": "Survival"}, "y2": {"datum": 0.5}, "stroke": {"field": "k", "type": "nominal", "legend": null}}},
     {"data": {"name": "km"}, "transform": [{"filter": "datum.g == 'CLIP2'"}], "mark": {"type": "line", "interpolate": "step-after", "strokeWidth": 1.1},
      "encoding": {"x": {"field": "t", "type": "quantitative", "title": "Survival time (days)", "scale": {"domain": [0, 2869], "nice": false, "zero": false}, "axis": {"values": [0, 500, 1000, 1500, 2000, 2500], "tickCount": 12, "format": ",d", "labelOverlap": false}},
       "y": {"field": "s", "type": "quantitative", "title": "Survival", "scale": {"domain": [-0.036, 1.03], "nice": false, "zero": false}, "axis": {"values": [0, 0.2, 0.4, 0.6, 0.8, 1], "tickCount": 12, "format": ".1f", "labelOverlap": false}},
       "color": {"field": "k", "type": "nominal", "scale": {"domain": ["high", "low"], "range": ["#000000", "#e3262c"]}, "legend": {"title": null, "symbolType": "M-2.1,0L2.1,0", "labelExpr": "datum.label == 'high' ? ['CLIP2 high, n=54', 'Median survival 419 days'] : ['CLIP2 low, n=56', 'Median survival 505 days']", "encode": {"labels": {"update": {"lineHeight": {"value": 13.3}}}, "symbols": {"update": {"strokeWidth": {"value": 3}}}}}}}},
     {"data": {"name": "cen"}, "transform": [{"filter": "datum.g == 'CLIP2'"}], "mark": {"type": "tick", "orient": "vertical", "size": 6, "thickness": 1}, "encoding": {"x": {"field": "t", "type": "quantitative", "title": "Survival time (days)"}, "y": {"field": "s", "type": "quantitative", "title": "Survival"}, "color": {"field": "k", "type": "nominal"}}},
     {"data": {"name": "pv"}, "transform": [{"filter": "datum.g == 'CLIP2'"}], "mark": {"type": "text", "text": "P", "fontStyle": "italic", "fontSize": 10, "align": "left", "baseline": "middle", "dx": 5, "color": "#222222"}, "encoding": {"x": {"datum": 0, "type": "quantitative", "title": "Survival time (days)"}, "y": {"datum": 0.03, "type": "quantitative", "title": "Survival"}}},
     {"data": {"name": "pv"}, "transform": [{"filter": "datum.g == 'CLIP2'"}], "mark": {"type": "text", "fontSize": 10, "align": "left", "baseline": "middle", "dx": 12, "color": "#222222"}, "encoding": {"x": {"datum": 0, "type": "quantitative", "title": "Survival time (days)"}, "y": {"datum": 0.03, "type": "quantitative", "title": "Survival"}, "text": {"field": "p", "type": "nominal"}}}
   ]},
   {"width": 288, "height": 179, "title": "MID1", "layer": [
     {"data": {"name": "med"}, "transform": [{"filter": "datum.g == 'MID1'"}], "mark": {"type": "rule", "strokeDash": [2, 2], "strokeWidth": 0.9}, "encoding": {"x": {"field": "m", "type": "quantitative", "title": "Survival time (days)"}, "x2": {"datum": 0}, "y": {"datum": 0.5, "type": "quantitative", "title": "Survival"}, "stroke": {"field": "k", "type": "nominal", "scale": {"domain": ["high", "low"], "range": ["#d9787c", "#6f6f6f"]}, "legend": null}}},
     {"data": {"name": "med"}, "transform": [{"filter": "datum.g == 'MID1'"}], "mark": {"type": "rule", "strokeDash": [2, 2], "strokeWidth": 0.9}, "encoding": {"x": {"field": "m", "type": "quantitative", "title": "Survival time (days)"}, "y": {"datum": 0, "type": "quantitative", "title": "Survival"}, "y2": {"datum": 0.5}, "stroke": {"field": "k", "type": "nominal", "legend": null}}},
     {"data": {"name": "km"}, "transform": [{"filter": "datum.g == 'MID1'"}], "mark": {"type": "line", "interpolate": "step-after", "strokeWidth": 1.1},
      "encoding": {"x": {"field": "t", "type": "quantitative", "title": "Survival time (days)", "scale": {"domain": [0, 3658], "nice": false, "zero": false}, "axis": {"values": [0, 500, 1000, 1500, 2000, 2500, 3000, 3500], "tickCount": 12, "format": ",d", "labelOverlap": false}},
       "y": {"field": "s", "type": "quantitative", "title": "Survival", "scale": {"domain": [-0.036, 1.03], "nice": false, "zero": false}, "axis": {"values": [0, 0.2, 0.4, 0.6, 0.8, 1], "tickCount": 12, "format": ".1f", "labelOverlap": false}},
       "color": {"field": "k", "type": "nominal", "scale": {"domain": ["high", "low"], "range": ["#000000", "#e3262c"]}, "legend": {"title": null, "symbolType": "M-2.1,0L2.1,0", "labelExpr": "datum.label == 'high' ? ['MID1 high, n=54', 'Median survival 350 days'] : ['MID1 low, n=56', 'Median survival 504 days']", "encode": {"labels": {"update": {"lineHeight": {"value": 13.3}}}, "symbols": {"update": {"strokeWidth": {"value": 3}}}}}}}},
     {"data": {"name": "cen"}, "transform": [{"filter": "datum.g == 'MID1'"}], "mark": {"type": "tick", "orient": "vertical", "size": 6, "thickness": 1}, "encoding": {"x": {"field": "t", "type": "quantitative", "title": "Survival time (days)"}, "y": {"field": "s", "type": "quantitative", "title": "Survival"}, "color": {"field": "k", "type": "nominal"}}},
     {"data": {"name": "pv"}, "transform": [{"filter": "datum.g == 'MID1'"}], "mark": {"type": "text", "text": "P", "fontStyle": "italic", "fontSize": 10, "align": "left", "baseline": "middle", "dx": 5, "color": "#222222"}, "encoding": {"x": {"datum": 0, "type": "quantitative", "title": "Survival time (days)"}, "y": {"datum": 0.03, "type": "quantitative", "title": "Survival"}}},
     {"data": {"name": "pv"}, "transform": [{"filter": "datum.g == 'MID1'"}], "mark": {"type": "text", "fontSize": 10, "align": "left", "baseline": "middle", "dx": 12, "color": "#222222"}, "encoding": {"x": {"datum": 0, "type": "quantitative", "title": "Survival time (days)"}, "y": {"datum": 0.03, "type": "quantitative", "title": "Survival"}, "text": {"field": "p", "type": "nominal"}}}
   ]},
   {"width": 288, "height": 179, "title": "WAS", "layer": [
     {"data": {"name": "med"}, "transform": [{"filter": "datum.g == 'WAS'"}], "mark": {"type": "rule", "strokeDash": [2, 2], "strokeWidth": 0.9}, "encoding": {"x": {"field": "m", "type": "quantitative", "title": "Survival time (days)"}, "x2": {"datum": 0}, "y": {"datum": 0.5, "type": "quantitative", "title": "Survival"}, "stroke": {"field": "k", "type": "nominal", "scale": {"domain": ["high", "low"], "range": ["#d9787c", "#6f6f6f"]}, "legend": null}}},
     {"data": {"name": "med"}, "transform": [{"filter": "datum.g == 'WAS'"}], "mark": {"type": "rule", "strokeDash": [2, 2], "strokeWidth": 0.9}, "encoding": {"x": {"field": "m", "type": "quantitative", "title": "Survival time (days)"}, "y": {"datum": 0, "type": "quantitative", "title": "Survival"}, "y2": {"datum": 0.5}, "stroke": {"field": "k", "type": "nominal", "legend": null}}},
     {"data": {"name": "km"}, "transform": [{"filter": "datum.g == 'WAS'"}], "mark": {"type": "line", "interpolate": "step-after", "strokeWidth": 1.1},
      "encoding": {"x": {"field": "t", "type": "quantitative", "title": "Survival time (days)", "scale": {"domain": [0, 2621], "nice": false, "zero": false}, "axis": {"values": [0, 500, 1000, 1500, 2000, 2500], "tickCount": 12, "format": ",d", "labelOverlap": false}},
       "y": {"field": "s", "type": "quantitative", "title": "Survival", "scale": {"domain": [-0.036, 1.03], "nice": false, "zero": false}, "axis": {"values": [0, 0.2, 0.4, 0.6, 0.8, 1], "tickCount": 12, "format": ".1f", "labelOverlap": false}},
       "color": {"field": "k", "type": "nominal", "scale": {"domain": ["high", "low"], "range": ["#000000", "#e3262c"]}, "legend": {"title": null, "symbolType": "M-2.1,0L2.1,0", "labelExpr": "datum.label == 'high' ? ['WAS high, n=54', 'Median survival 362 days'] : ['WAS low, n=56', 'Median survival 382 days']", "encode": {"labels": {"update": {"lineHeight": {"value": 13.3}}}, "symbols": {"update": {"strokeWidth": {"value": 3}}}}}}}},
     {"data": {"name": "cen"}, "transform": [{"filter": "datum.g == 'WAS'"}], "mark": {"type": "tick", "orient": "vertical", "size": 6, "thickness": 1}, "encoding": {"x": {"field": "t", "type": "quantitative", "title": "Survival time (days)"}, "y": {"field": "s", "type": "quantitative", "title": "Survival"}, "color": {"field": "k", "type": "nominal"}}},
     {"data": {"name": "pv"}, "transform": [{"filter": "datum.g == 'WAS'"}], "mark": {"type": "text", "text": "P", "fontStyle": "italic", "fontSize": 10, "align": "left", "baseline": "middle", "dx": 5, "color": "#222222"}, "encoding": {"x": {"datum": 0, "type": "quantitative", "title": "Survival time (days)"}, "y": {"datum": 0.03, "type": "quantitative", "title": "Survival"}}},
     {"data": {"name": "pv"}, "transform": [{"filter": "datum.g == 'WAS'"}], "mark": {"type": "text", "fontSize": 10, "align": "left", "baseline": "middle", "dx": 12, "color": "#222222"}, "encoding": {"x": {"datum": 0, "type": "quantitative", "title": "Survival time (days)"}, "y": {"datum": 0.03, "type": "quantitative", "title": "Survival"}, "text": {"field": "p", "type": "nominal"}}}
   ]},
   {"width": 288, "height": 179, "title": "GSN", "layer": [
     {"data": {"name": "med"}, "transform": [{"filter": "datum.g == 'GSN'"}], "mark": {"type": "rule", "strokeDash": [2, 2], "strokeWidth": 0.9}, "encoding": {"x": {"field": "m", "type": "quantitative", "title": "Survival time (days)"}, "x2": {"datum": 0}, "y": {"datum": 0.5, "type": "quantitative", "title": "Survival"}, "stroke": {"field": "k", "type": "nominal", "scale": {"domain": ["high", "low"], "range": ["#d9787c", "#6f6f6f"]}, "legend": null}}},
     {"data": {"name": "med"}, "transform": [{"filter": "datum.g == 'GSN'"}], "mark": {"type": "rule", "strokeDash": [2, 2], "strokeWidth": 0.9}, "encoding": {"x": {"field": "m", "type": "quantitative", "title": "Survival time (days)"}, "y": {"datum": 0, "type": "quantitative", "title": "Survival"}, "y2": {"datum": 0.5}, "stroke": {"field": "k", "type": "nominal", "legend": null}}},
     {"data": {"name": "km"}, "transform": [{"filter": "datum.g == 'GSN'"}], "mark": {"type": "line", "interpolate": "step-after", "strokeWidth": 1.1},
      "encoding": {"x": {"field": "t", "type": "quantitative", "title": "Survival time (days)", "scale": {"domain": [0, 3647], "nice": false, "zero": false}, "axis": {"values": [0, 500, 1000, 1500, 2000, 2500, 3000, 3500], "tickCount": 12, "format": ",d", "labelOverlap": false}},
       "y": {"field": "s", "type": "quantitative", "title": "Survival", "scale": {"domain": [-0.036, 1.03], "nice": false, "zero": false}, "axis": {"values": [0, 0.2, 0.4, 0.6, 0.8, 1], "tickCount": 12, "format": ".1f", "labelOverlap": false}},
       "color": {"field": "k", "type": "nominal", "scale": {"domain": ["high", "low"], "range": ["#000000", "#e3262c"]}, "legend": {"title": null, "symbolType": "M-2.1,0L2.1,0", "labelExpr": "datum.label == 'high' ? ['GSN high, n=54', 'Median survival 320 days'] : ['GSN low, n=56', 'Median survival 467 days']", "encode": {"labels": {"update": {"lineHeight": {"value": 13.3}}}, "symbols": {"update": {"strokeWidth": {"value": 3}}}}}}}},
     {"data": {"name": "cen"}, "transform": [{"filter": "datum.g == 'GSN'"}], "mark": {"type": "tick", "orient": "vertical", "size": 6, "thickness": 1}, "encoding": {"x": {"field": "t", "type": "quantitative", "title": "Survival time (days)"}, "y": {"field": "s", "type": "quantitative", "title": "Survival"}, "color": {"field": "k", "type": "nominal"}}},
     {"data": {"name": "pv"}, "transform": [{"filter": "datum.g == 'GSN'"}], "mark": {"type": "text", "text": "P", "fontStyle": "italic", "fontSize": 10, "align": "left", "baseline": "middle", "dx": 5, "color": "#222222"}, "encoding": {"x": {"datum": 0, "type": "quantitative", "title": "Survival time (days)"}, "y": {"datum": 0.03, "type": "quantitative", "title": "Survival"}}},
     {"data": {"name": "pv"}, "transform": [{"filter": "datum.g == 'GSN'"}], "mark": {"type": "text", "fontSize": 10, "align": "left", "baseline": "middle", "dx": 12, "color": "#222222"}, "encoding": {"x": {"datum": 0, "type": "quantitative", "title": "Survival time (days)"}, "y": {"datum": 0.03, "type": "quantitative", "title": "Survival"}, "text": {"field": "p", "type": "nominal"}}}
   ]}
  ]},
 {"hconcat": [
   {"width": 205, "height": 21, "view": {"stroke": null}, "title": {"text": ".", "fontSize": 2, "offset": 6, "color": "#ffffff"}, "data": {"values": []}, "mark": "point"},
   {"width": 237, "height": 21, "view": {"stroke": "#222222", "strokeWidth": 1},
    "data": {"values": [{"e": "High expression"}, {"e": "Low expression"}]},
    "layer": [
     {"mark": {"type": "point", "shape": "M-1,-0.47L1,-0.47L1,0.47L-1,0.47Z", "size": 361, "filled": true, "opacity": 1, "xOffset": 16.5},
      "encoding": {"x": {"field": "e", "type": "nominal", "bandPosition": 0, "axis": null, "scale": {"type": "band", "paddingInner": 0, "paddingOuter": 0}},
       "fill": {"field": "e", "type": "nominal", "scale": {"domain": ["High expression", "Low expression"], "range": ["#000000", "#e3262c"]}, "legend": null}}},
     {"mark": {"type": "text", "align": "left", "baseline": "middle", "fontSize": 11.5, "dx": 31, "color": "#111111"},
      "encoding": {"x": {"field": "e", "type": "nominal", "bandPosition": 0, "axis": null}, "text": {"field": "e", "type": "nominal"}}}
    ]}
  ], "spacing": 0}
]
}
